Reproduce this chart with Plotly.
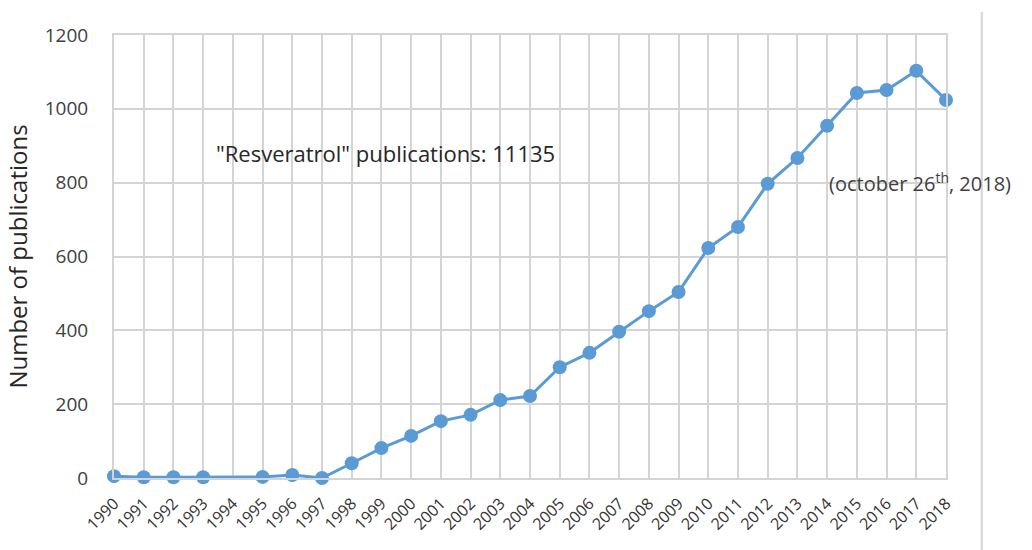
import plotly.graph_objects as go

# Publications per year (1994 has no recorded value)
years = list(range(1990, 2019))
publications = [5, 2, 2, 2, None, 3, 8, 0, 40, 81, 114, 154, 171, 211, 222,
                300, 339, 396, 452, 504, 623, 680, 797, 867, 954, 1043, 1051,
                1103, 1024]
year_labels = [str(y) for y in years]
y_ticks = [0, 200, 400, 600, 800, 1000, 1200]

FONT = "'Open Sans', Lato, sans-serif"
BLUE = "#5b9bd5"
GRID = "#d4d4d4"

fig = go.Figure()
fig.add_trace(go.Scatter(
    x=years, y=publications, mode="lines+markers",
    connectgaps=True, cliponaxis=False,
    line=dict(color=BLUE, width=3),
    marker=dict(color=BLUE, size=14),
    showlegend=False,
))

fig.update_layout(
    width=1032, height=550,
    margin=dict(l=114, r=86, t=35, b=72),
    paper_bgcolor="white", plot_bgcolor="white",
    font=dict(family=FONT, color="#404040"),
    xaxis=dict(
        range=[1990, 2018], tickvals=years, ticktext=year_labels,
        tickangle=-45, tickfont=dict(size=16, color="#333333"),
        ticklabelstandoff=8,
        showgrid=True, gridcolor=GRID, gridwidth=2,
        showline=True, linecolor=GRID, linewidth=2,
        zeroline=False, mirror=True,
    ),
    yaxis=dict(
        range=[0, 1200], tickvals=y_ticks,
        tickfont=dict(size=19, color="#404040"), ticklabelstandoff=20,
        showgrid=True, gridcolor=GRID, gridwidth=2,
        showline=True, linecolor=GRID, linewidth=2, mirror=True,
        zeroline=False,
        title=dict(text="Number of publications", standoff=10,
                   font=dict(size=24, color="#262626")),
    ),
    annotations=[
        dict(text='"Resveratrol" publications: 11135', xref="paper",
             yref="paper", x=0.326, y=0.734, xanchor="center",
             yanchor="middle", showarrow=False,
             font=dict(size=22, color="#262626")),
        dict(text="(october 26<sup>th</sup>, 2018)", xref="paper",
             yref="paper", x=0.969, y=0.666, xanchor="center",
             yanchor="middle", showarrow=False,
             font=dict(size=20, color="#404040")),
    ],
    shapes=[
        dict(type="line", xref="paper", yref="paper",
             x0=1.043, x1=1.043, y0=-0.165, y1=1.052,
             line=dict(color=GRID, width=2)),
    ],
)

fig.write_html("out.html")
